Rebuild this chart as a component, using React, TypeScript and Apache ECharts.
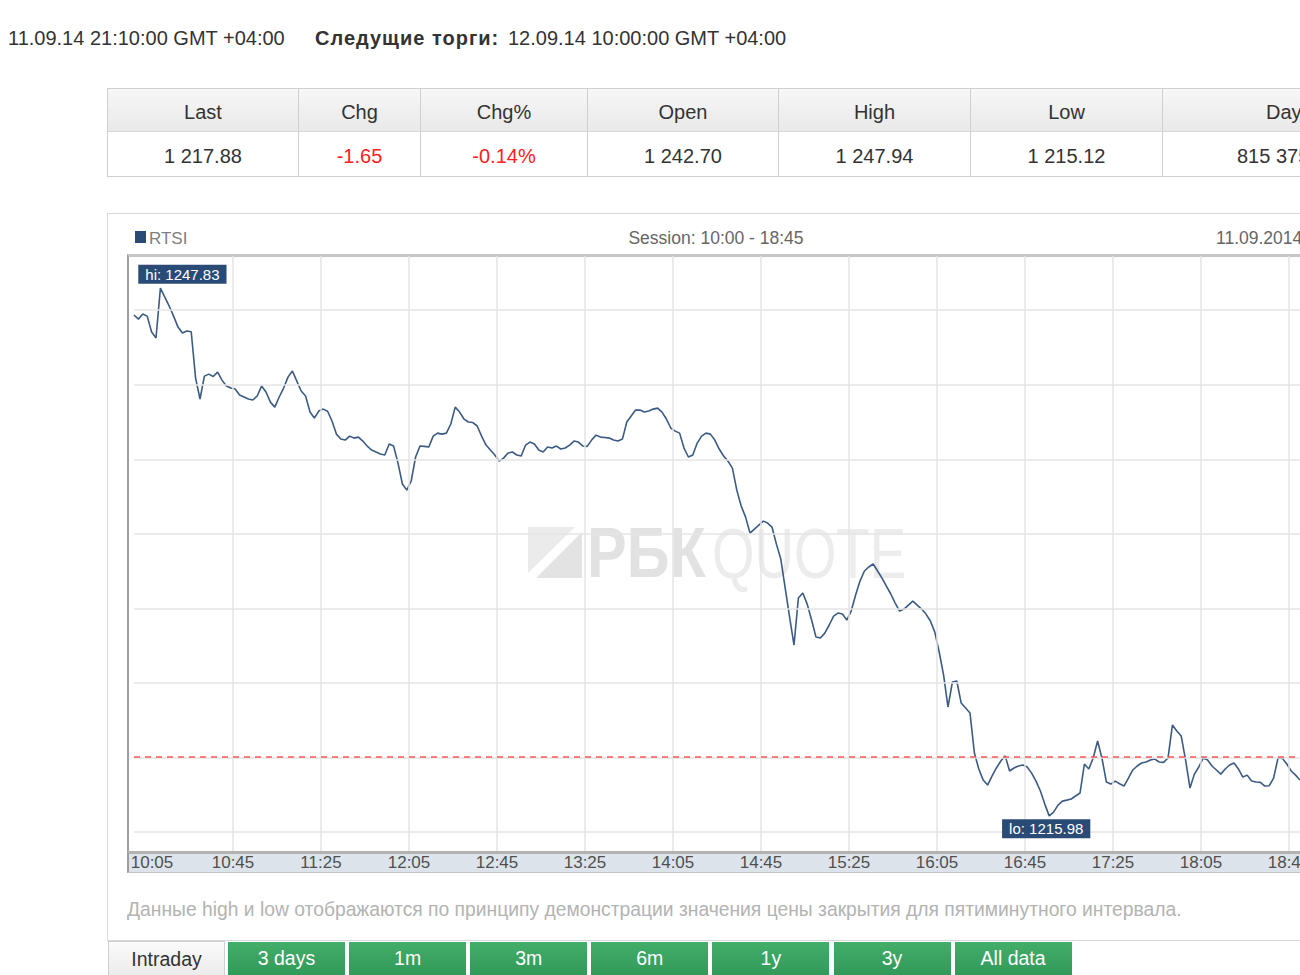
import React, { useEffect, useRef } from 'react';
import * as echarts from 'echarts';

// ---------- data ----------
const headerTime = '11.09.14 21:10:00 GMT +04:00';
const nextLabel = 'Следущие торги:';
const nextTime = '12.09.14 10:00:00 GMT +04:00';

const quoteHeaders = ['Last', 'Chg', 'Chg%', 'Open', 'High', 'Low', 'Day volume'];
const quoteValues = ['1 217.88', '-1.65', '-0.14%', '1 242.70', '1 247.94', '1 215.12', '815 375 122'];
const quoteNegative = [false, true, true, false, false, false, false];

const legendName = 'RTSI';
const sessionText = 'Session: 10:00 - 18:45';
const dateText = '11.09.2014';
const sessionStart = '10:00';
const stepMinutes = 2;
const tickLabels = ['10:05', '10:45', '11:25', '12:05', '12:45', '13:25', '14:05', '14:45', '15:25', '16:05', '16:45', '17:25', '18:05', '18:45'];
const gridValues = [1215, 1219.5, 1224, 1228.5, 1233, 1237.5, 1242, 1246.5];
const prevClose = 1219.53;

const rtsiValues = [
  1246.21, 1245.96, 1246.27, 1246.14, 1245.18, 1244.82, 1247.83, 1247.29, 1246.75, 1246.14,
  1245.48, 1245.12, 1245.24, 1245.20, 1242.40, 1241.14, 1242.52, 1242.64, 1242.50, 1242.76,
  1242.28, 1241.92, 1241.80, 1241.74, 1241.38, 1241.26, 1241.14, 1241.08, 1241.32, 1241.92,
  1241.56, 1240.95, 1240.65, 1241.26, 1241.80, 1242.46, 1242.83, 1242.22, 1241.62, 1241.32,
  1240.35, 1239.99, 1240.41, 1240.53, 1240.40, 1239.81, 1239.02, 1238.72, 1238.66, 1238.90,
  1238.78, 1238.84, 1238.60, 1238.30, 1238.06, 1237.94, 1237.82, 1237.76, 1238.42, 1238.30,
  1237.27, 1236.01, 1235.64, 1236.19, 1237.64, 1238.30, 1238.28, 1238.24, 1238.90, 1239.08,
  1239.02, 1239.08, 1239.63, 1240.65, 1240.35, 1239.93, 1239.75, 1239.72, 1239.51, 1238.90,
  1238.36, 1238.06, 1237.76, 1237.39, 1237.57, 1237.88, 1237.94, 1237.76, 1237.70, 1238.36,
  1238.54, 1238.42, 1238.06, 1237.94, 1238.24, 1238.18, 1238.30, 1238.12, 1238.18, 1238.36,
  1238.60, 1238.54, 1238.30, 1238.28, 1238.66, 1238.96, 1238.84, 1238.82, 1238.78, 1238.66,
  1238.60, 1238.72, 1239.75, 1240.11, 1240.47, 1240.47, 1240.35, 1240.41, 1240.53, 1240.59,
  1240.35, 1239.93, 1239.39, 1239.20, 1239.08, 1238.18, 1237.64, 1237.76, 1238.48, 1238.90,
  1239.08, 1239.02, 1238.66, 1238.12, 1237.70, 1237.39, 1236.97, 1235.64, 1234.68, 1234.01,
  1233.05, 1233.29, 1233.53, 1233.77, 1233.65, 1233.41, 1232.38, 1231.48, 1229.73, 1227.98,
  1226.29, 1229.13, 1229.43, 1228.76, 1227.80, 1226.77, 1226.71, 1227.01, 1227.50, 1228.04,
  1228.22, 1228.16, 1227.80, 1228.34, 1229.31, 1230.15, 1230.76, 1231.00, 1231.18, 1230.76,
  1230.33, 1229.85, 1229.37, 1228.82, 1228.34, 1228.46, 1228.70, 1228.94, 1228.70, 1228.46,
  1228.16, 1227.74, 1227.07, 1225.87, 1224.48, 1222.55, 1224.06, 1224.12, 1222.79, 1222.49,
  1222.19, 1219.77, 1218.81, 1218.14, 1217.84, 1218.38, 1218.87, 1219.29, 1219.60, 1218.69,
  1218.87, 1218.99, 1219.05, 1218.93, 1218.56, 1218.08, 1217.48, 1216.69, 1215.98, 1216.21,
  1216.63, 1216.87, 1216.93, 1217.00, 1217.18, 1217.36, 1219.11, 1218.81, 1219.47, 1220.50,
  1219.45, 1218.02, 1217.90, 1218.08, 1217.92, 1217.78, 1218.26, 1218.75, 1218.99, 1219.17,
  1219.23, 1219.35, 1219.41, 1219.23, 1219.21, 1219.47, 1221.46, 1221.10, 1220.80, 1219.35,
  1217.66, 1218.50, 1218.93, 1219.47, 1219.35, 1218.99, 1218.75, 1218.50, 1218.81, 1219.05,
  1219.17, 1218.81, 1218.32, 1218.44, 1218.08, 1218.02, 1218.00, 1217.78, 1217.80, 1218.26,
  1219.47, 1219.45, 1219.11, 1218.69, 1218.44, 1218.14,
];

const footerNote = 'Данные high и low отображаются по принципу демонстрации значения цены закрытия для пятиминутного интервала.';
const activeTab = 'Intraday';
const periodButtons = ['3 days', '1m', '3m', '6m', '1y', '3y', 'All data'];

// ---------- layout ----------
const FONT = "'Liberation Sans', Arial, sans-serif";
const colEdges = [107, 298, 420, 587, 778, 970, 1162, 1460];

const toMin = (t: string) => {
  const [h, m] = t.split(':').map(Number);
  return h * 60 + m;
};

function Chart() {
  const ref = useRef<HTMLDivElement>(null);
  useEffect(() => {
    if (!ref.current) return;
    const chart = echarts.init(ref.current, undefined, { renderer: 'svg' });
    const start = toMin(sessionStart);
    const lineData = rtsiValues.map((v, i) => [i * stepMinutes, v]);
    const tickMinutes = tickLabels.map((t) => toMin(t) - start);
    const maxV = Math.max(...rtsiValues);
    const minV = Math.min(...rtsiValues);
    const gridLine = { color: '#e4e4e4', width: 1.5, type: 'solid' };
    const boxLabel = {
      show: true,
      position: 'inside',
      backgroundColor: '#2a4b76',
      color: '#ffffff',
      padding: [2, 7, 2, 7],
      fontSize: 15,
      fontFamily: FONT,
    };

    chart.setOption({
      animation: false,
      backgroundColor: 'transparent',
      grid: { left: 134, top: 256, width: 1166, height: 595, outerBoundsMode: 'none', containLabel: false },
      xAxis: {
        type: 'value',
        min: 0,
        max: (rtsiValues.length - 1) * stepMinutes,
        axisLine: { show: false },
        axisTick: { show: false },
        splitLine: { show: false },
        axisLabel: {
          customValues: tickMinutes,
          formatter: (v: number) => {
            const i = tickMinutes.indexOf(v);
            if (i < 0) return '';
            return i === 0 ? '{first|' + tickLabels[i] + '}' : tickLabels[i];
          },
          rich: { first: { padding: [0, 0, 0, 14], color: '#505050', fontSize: 17, fontFamily: FONT } },
          color: '#505050',
          fontSize: 17,
          fontFamily: FONT,
          margin: 3,
        },
      },
      yAxis: { type: 'value', min: 1213.86, max: 1249.77, show: false },
      series: [
        {
          type: 'line',
          data: lineData,
          symbol: 'none',
          silent: true,
          z: 1,
          lineStyle: { opacity: 0 },
          markLine: {
            silent: true,
            symbol: ['none', 'none'],
            label: { show: false },
            data: [
              ...tickMinutes.slice(1).map((m) => ({ xAxis: m, lineStyle: gridLine })),
              ...gridValues.map((v) => ({ yAxis: v, lineStyle: gridLine })),
              { yAxis: prevClose, lineStyle: { color: '#ff5555', width: 1.6, type: [6, 5] } },
            ],
          },
        },
        {
          type: 'line',
          data: lineData,
          symbol: 'none',
          z: 3,
          lineStyle: { color: '#3b5b84', width: 1.6 },
          markPoint: {
            symbol: 'rect',
            symbolSize: 1,
            silent: true,
            itemStyle: { color: 'transparent' },
            data: [
              { type: 'max', valueDim: 'y', label: { ...boxLabel, offset: [22, -14], formatter: 'hi: ' + maxV.toFixed(2) } },
              { type: 'min', valueDim: 'y', label: { ...boxLabel, offset: [-3, 13], formatter: 'lo: ' + minV.toFixed(2) } },
            ],
          },
        },
      ],
      graphic: [
        { type: 'rect', z: 0, shape: { x: 135, y: 231, width: 11, height: 12 }, style: { fill: '#2b4a75' } },
        { type: 'text', z: 0, x: 149, y: 238, style: { text: legendName, fontSize: 17, fontFamily: FONT, fill: '#808080', verticalAlign: 'middle' } },
        { type: 'text', z: 0, x: 716, y: 238, style: { text: sessionText, fontSize: 17.5, fontFamily: FONT, fill: '#666', align: 'center', verticalAlign: 'middle' } },
        { type: 'text', z: 0, x: 1216, y: 238, style: { text: dateText, fontSize: 17.5, fontFamily: FONT, fill: '#666', verticalAlign: 'middle' } },
        // watermark
        { type: 'polygon', z: 0, shape: { points: [[528, 527], [575, 527], [528, 573]] }, style: { fill: '#ebebeb' } },
        { type: 'polygon', z: 0, shape: { points: [[582, 532], [582, 578], [536, 578]] }, style: { fill: '#e3e3e3' } },
        { type: 'text', z: 0, x: 587, y: 553, scaleX: 0.85, style: { text: 'РБК', fontSize: 70, fontWeight: 'bold', fontFamily: FONT, fill: '#e2e2e2', verticalAlign: 'middle' } },
        { type: 'text', z: 0, x: 712, y: 553, scaleX: 0.78, style: { text: 'QUOTE', fontSize: 70, fontWeight: 'normal', fontFamily: FONT, fill: '#ececec', verticalAlign: 'middle' } },
      ],
    });
    return () => chart.dispose();
  }, []);
  return <div ref={ref} style={{ position: 'absolute', left: 0, top: 0, width: 1300, height: 975 }} />;
}

export default function App() {
  const abs = (s: React.CSSProperties): React.CSSProperties => ({ position: 'absolute', ...s });
  return (
    <div style={{ position: 'fixed', left: 0, top: 0, width: 1300, height: 975, overflow: 'hidden', background: '#fff', fontFamily: FONT, color: '#333' }}>
      {/* header line */}
      <div style={abs({ left: 8, top: 27, fontSize: 20, whiteSpace: 'nowrap' })}>{headerTime}</div>
      <div style={abs({ left: 315, top: 27, fontSize: 20, fontWeight: 'bold', letterSpacing: 1, whiteSpace: 'nowrap' })}>{nextLabel}</div>
      <div style={abs({ left: 508, top: 27, fontSize: 20, whiteSpace: 'nowrap' })}>{nextTime}</div>

      {/* quote table */}
      <div style={abs({ left: 107, top: 88, width: 1400, height: 89, border: '1px solid #cfcfcf', boxSizing: 'border-box' })} />
      {quoteHeaders.map((h, i) => {
        const l = colEdges[i];
        const w = colEdges[i + 1] - l;
        const last = i === quoteHeaders.length - 1;
        return (
          <React.Fragment key={h}>
            <div style={abs({ left: l, top: 88, width: w, height: 44, boxSizing: 'border-box', borderLeft: '1px solid #cfcfcf', borderTop: '1px solid #cfcfcf', borderBottom: '1px solid #d6d6d6', background: 'linear-gradient(#f7f7f7, #e9e9e9)', lineHeight: '47px', fontSize: 20, textAlign: last ? 'left' : 'center', paddingLeft: last ? 103 : 0, whiteSpace: 'nowrap' })}>{h}</div>
            <div style={abs({ left: l, top: 132, width: w, height: 45, boxSizing: 'border-box', borderLeft: '1px solid #cfcfcf', borderBottom: '1px solid #cfcfcf', background: '#fff', lineHeight: '48px', fontSize: 20, textAlign: last ? 'left' : 'center', paddingLeft: last ? 74 : 0, color: quoteNegative[i] ? '#ff2020' : '#333', whiteSpace: 'nowrap' })}>{quoteValues[i]}</div>
          </React.Fragment>
        );
      })}

      {/* chart widget frame */}
      <div style={abs({ left: 107, top: 213, width: 1400, height: 728, border: '1px solid #d9d9d9', boxSizing: 'border-box' })} />
      <div style={abs({ left: 127, top: 254, width: 1400, height: 597, borderTop: '3px solid #c6c6c6', borderLeft: '2px solid #9e9e9e', boxSizing: 'border-box' })} />
      <div style={abs({ left: 127, top: 851, width: 1400, height: 22, background: '#dce3eb', borderTop: '3px solid #b3b3b3', borderLeft: '2px solid #9e9e9e', borderBottom: '1px solid #c4c4c4', boxSizing: 'border-box' })} />

      <Chart />

      {/* footer */}
      <div style={abs({ left: 127, top: 899, fontSize: 19.3, color: '#b3b3b3', whiteSpace: 'nowrap' })}>{footerNote}</div>
      <div style={abs({ left: 108, top: 941, width: 117, height: 40, boxSizing: 'border-box', border: '1px solid #cfcfcf', borderBottom: 'none', background: 'linear-gradient(#fbfbfb, #e8e8e8)', textAlign: 'center', lineHeight: '34px', fontSize: 19.5, color: '#333' })}>{activeTab}</div>
      {periodButtons.map((b, i) => (
        <div key={b} style={abs({ left: 228 + i * 121.1, top: 942, width: 117, height: 40, background: 'linear-gradient(#43ad6a, #2e9656)', textAlign: 'center', lineHeight: '32px', fontSize: 19.5, color: '#ffffff' })}>{b}</div>
      ))}
    </div>
  );
}
